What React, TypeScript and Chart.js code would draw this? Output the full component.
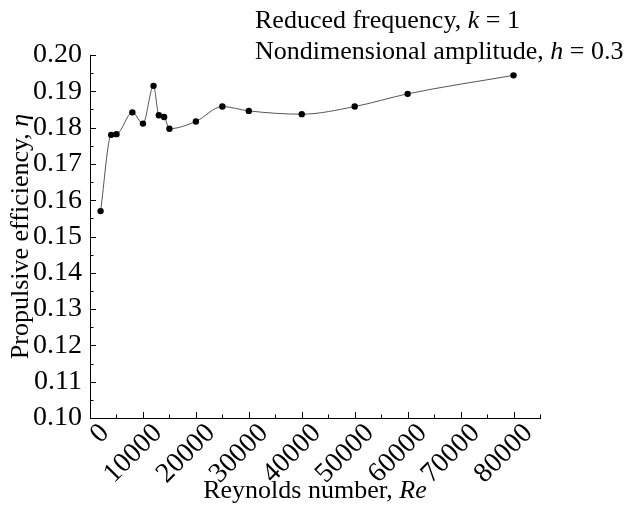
import React, { useEffect, useRef } from "react";
import { Chart, registerables } from "chart.js";

Chart.register(...registerables);

const reynolds = [2000, 4000, 5000, 8000, 10000, 12000, 13000, 14000, 15000, 20000, 25000, 30000, 40000, 50000, 60000, 80000];
const efficiency = [0.157, 0.178, 0.1782, 0.1842, 0.1811, 0.1915, 0.1834, 0.1829, 0.1797, 0.1817, 0.1858, 0.1846, 0.1837, 0.1858, 0.1893, 0.1944];
const xTicks = [0, 10000, 20000, 30000, 40000, 50000, 60000, 70000, 80000];
const yTicks = [0.1, 0.11, 0.12, 0.13, 0.14, 0.15, 0.16, 0.17, 0.18, 0.19, 0.2];
const xMinorTicks = [5000, 15000, 25000, 35000, 45000, 55000, 65000, 75000, 85000];
const yMinorTicks = [0.105, 0.115, 0.125, 0.135, 0.145, 0.155, 0.165, 0.175, 0.185, 0.195];
const xTitle = [{ t: "Reynolds number, " }, { t: "Re", i: true }];
const yTitle = [{ t: "Propulsive efficiency, " }, { t: "η", i: true }];
const note1 = [{ t: "Reduced frequency, " }, { t: "k", i: true }, { t: " = 1" }];
const note2 = [{ t: "Nondimensional amplitude, " }, { t: "h", i: true }, { t: " = 0.3" }];

const FAMILY = "'Liberation Serif', 'Times New Roman', serif";
const SIZE = 26;
const TICK_SIZE = 28;

type Part = { t: string; i?: boolean };

function fontOf(p: Part) {
  return `${p.i ? "italic " : ""}${SIZE}px ${FAMILY}`;
}

function drawRich(ctx: CanvasRenderingContext2D, parts: Part[], x: number, y: number, align: "left" | "center") {
  let total = 0;
  for (const p of parts) {
    ctx.font = fontOf(p);
    total += ctx.measureText(p.t).width;
  }
  let cx = align === "center" ? x - total / 2 : x;
  ctx.textAlign = "left";
  ctx.textBaseline = "alphabetic";
  ctx.fillStyle = "#000";
  for (const p of parts) {
    ctx.font = fontOf(p);
    ctx.fillText(p.t, cx, y);
    cx += ctx.measureText(p.t).width;
  }
}

const decorPlugin = {
  id: "decor",
  afterDraw(chart: any) {
    const ctx: CanvasRenderingContext2D = chart.ctx;
    const xs = chart.scales.x;
    const ys = chart.scales.y;
    const area = chart.chartArea;
    ctx.save();
    ctx.strokeStyle = "#000";
    ctx.lineWidth = 1;
    ctx.beginPath();
    for (const v of xTicks) {
      const px = Math.round(xs.getPixelForValue(v)) + 0.5;
      ctx.moveTo(px, area.bottom);
      ctx.lineTo(px, area.bottom - 6);
    }
    for (const v of xMinorTicks) {
      const px = Math.round(xs.getPixelForValue(v)) + 0.5;
      ctx.moveTo(px, area.bottom);
      ctx.lineTo(px, area.bottom - 3.5);
    }
    for (const v of yTicks) {
      const py = Math.round(ys.getPixelForValue(v)) + 0.5;
      ctx.moveTo(area.left, py);
      ctx.lineTo(area.left + 6, py);
    }
    for (const v of yMinorTicks) {
      const py = Math.round(ys.getPixelForValue(v)) + 0.5;
      ctx.moveTo(area.left, py);
      ctx.lineTo(area.left + 3.5, py);
    }
    ctx.stroke();

    // rotated x tick labels
    ctx.fillStyle = "#000";
    ctx.font = `${TICK_SIZE}px ${FAMILY}`;
    ctx.textAlign = "right";
    ctx.textBaseline = "middle";
    for (const v of xTicks) {
      const px = xs.getPixelForValue(v);
      ctx.save();
      ctx.translate(px + 15, area.bottom + 11);
      ctx.rotate(-Math.PI / 4);
      ctx.fillText(String(v), 0, 0);
      ctx.restore();
    }

    drawRich(ctx, xTitle, (area.left + area.right) / 2, 498, "center");
    ctx.save();
    ctx.translate(28, (area.top + area.bottom) / 2);
    ctx.rotate(-Math.PI / 2);
    drawRich(ctx, yTitle, 0, 0, "center");
    ctx.restore();
    drawRich(ctx, note1, 255, 28, "left");
    drawRich(ctx, note2, 255, 59, "left");
    ctx.restore();
  },
};

export default function App() {
  const ref = useRef<HTMLCanvasElement | null>(null);
  useEffect(() => {
    document.body.style.margin = "0";
    const canvas = ref.current;
    if (!canvas) return;
    const chart = new Chart(canvas, {
      type: "scatter",
      data: {
        datasets: [
          {
            data: reynolds.map((x, k) => ({ x, y: efficiency[k] })),
            showLine: true,
            borderColor: "#555555",
            borderWidth: 1,
            backgroundColor: "#000000",
            pointBackgroundColor: "#000000",
            pointBorderColor: "#000000",
            pointRadius: 3.2,
            pointBorderWidth: 0,
            cubicInterpolationMode: "monotone",
          },
        ],
      },
      options: {
        animation: false,
        responsive: false,
        maintainAspectRatio: false,
        layout: { padding: { top: 55, right: 89, left: 0, bottom: 0 } },
        plugins: { legend: { display: false }, tooltip: { enabled: false }, title: { display: false } },
        scales: {
          x: {
            type: "linear",
            min: 0,
            max: 85000,
            afterBuildTicks: (s: any) => {
              s.ticks = xTicks.map((v) => ({ value: v }));
            },
            afterFit: (s: any) => {
              s.height = 88;
              s.paddingLeft = 0;
              s.paddingRight = 0;
            },
            grid: { display: true, drawOnChartArea: false, drawTicks: false },
            border: { display: true, color: "#000", width: 1 },
            ticks: { display: false },
          },
          y: {
            type: "linear",
            min: 0.1,
            max: 0.2,
            afterBuildTicks: (s: any) => {
              s.ticks = yTicks.map((v) => ({ value: v }));
            },
            afterFit: (s: any) => {
              s.width = 90;
            },
            grid: { display: true, drawOnChartArea: false, drawTicks: false },
            border: { display: true, color: "#000", width: 1 },
            ticks: {
              autoSkip: false,
              padding: 8,
              color: "#000",
              font: { family: FAMILY, size: TICK_SIZE },
              callback: (v: any) => Number(v).toFixed(2),
            },
          },
        },
      },
      plugins: [decorPlugin],
    } as any);
    return () => chart.destroy();
  }, []);
  return <canvas ref={ref} width={629} height={506} style={{ display: "block" }} />;
}
